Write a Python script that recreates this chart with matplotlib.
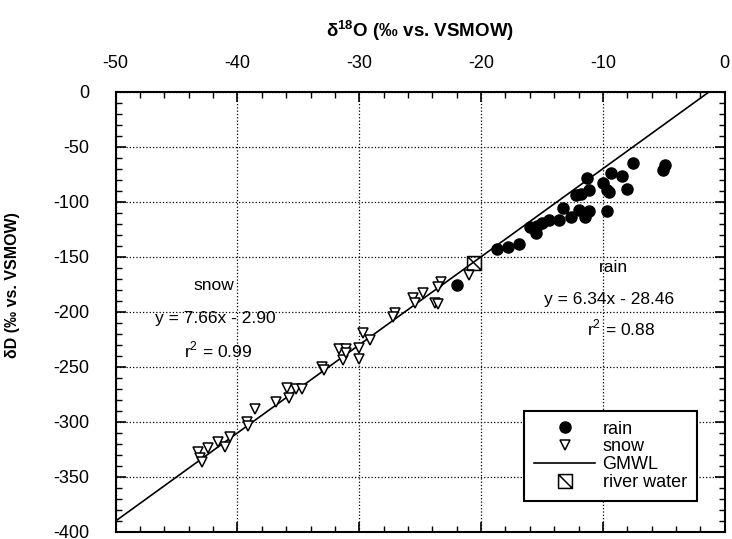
import matplotlib
matplotlib.use('Agg')
import matplotlib.pyplot as plt
from matplotlib.path import Path
import numpy as np

plt.rcParams['font.family'] = ['Liberation Sans', 'DejaVu Sans']
plt.rcParams['axes.unicode_minus'] = False
plt.rcParams['mathtext.fontset'] = 'custom'
plt.rcParams['mathtext.rm'] = 'Liberation Sans'
plt.rcParams['mathtext.bf'] = 'Liberation Sans:bold'

# rain samples (d18O, dD)
rain_o = [-7.5, -4.9, -5.1, -9.3, -8.4, -11.3, -10.0, -8.0, -11.1, -9.7, -9.5,
          -12.2, -11.8, -13.3, -12.0, -11.1, -9.7, -12.6, -11.5, -13.6, -14.4,
          -15.0, -15.4, -16.0, -15.5, -16.9, -17.8, -18.7, -22.0]
rain_d = [-64.5, -66.6, -71.2, -73.9, -76.6, -78.5, -83, -88.5, -89.4, -89.4, -90.9,
          -93.9, -93, -105.7, -107.5, -108, -108, -113.6, -113.9, -116.6, -116.6,
          -119.4, -122, -123, -128.5, -138.6, -141, -143, -175.7]

# snow samples
snow_o = [-21.0, -23.3, -23.5, -24.8, -25.6, -25.4, -23.8, -23.5, -27.1, -27.2,
          -29.7, -29.1, -31.7, -31.1, -30.0, -31.3, -30.0, -31.1, -33.1, -32.9,
          -35.9, -35.2, -34.7, -36.8, -35.8, -38.6, -39.2, -39.1,
          -40.6, -41.0, -41.6, -42.4, -43.2, -43.1, -42.9]
snow_d = [-166.6, -172.7, -177.3, -182.7, -187.8, -191.8, -192.4, -193, -201.5, -205,
          -219, -225.7, -234.2, -234.2, -233.3, -244, -243, -237.8, -250, -253,
          -269.6, -270.3, -270.3, -281.8, -278.7, -288.7, -300, -303.9,
          -313.6, -322.7, -318, -324, -327, -333, -336]

# river water
river_o = [-20.6]
river_d = [-155.5]

# global meteoric water line: dD = 8 d18O + 10
gmwl_o = np.array([-50.0, 0.0])
gmwl_d = 8 * gmwl_o + 10

# square with a diagonal marker
box = Path([(-1, -1), (1, -1), (1, 1), (-1, 1), (-1, -1), (-1, 1), (1, -1)],
           [Path.MOVETO, Path.LINETO, Path.LINETO, Path.LINETO, Path.CLOSEPOLY,
            Path.MOVETO, Path.LINETO])

fig = plt.figure(figsize=(7.32, 5.39), dpi=100)
ax = fig.add_axes([0.158, 0.013, 0.832, 0.817])

ax.plot(rain_o, rain_d, 'o', color='black', markersize=8, label='rain', zorder=4)
ax.plot(snow_o, snow_d, 'v', markerfacecolor='white', markeredgecolor='black',
        markersize=7, markeredgewidth=1.1, label='snow', zorder=4)
ax.plot(gmwl_o, gmwl_d, '-', color='black', linewidth=1.2, label='GMWL', zorder=3)
ax.plot(river_o, river_d, marker=box, linestyle='none', markerfacecolor='none',
        markeredgecolor='black', markersize=10, markeredgewidth=1.1,
        label='river water', zorder=5)

ax.set_xlim(-50, 0)
ax.set_ylim(-400, 0)
ax.set_xticks(np.arange(-50, 1, 10))
ax.set_xticks(np.arange(-50, 1, 2), minor=True)
ax.set_yticks(np.arange(-400, 1, 50))
ax.set_yticks(np.arange(-400, 1, 10), minor=True)
ax.xaxis.tick_top()
ax.tick_params(which='both', direction='in', top=True, bottom=True, left=True, right=True)
ax.tick_params(axis='x', which='major', length=7, width=1.2, pad=14, labelsize=13)
ax.tick_params(axis='y', which='major', length=7, width=1.2, pad=19, labelsize=13)
ax.tick_params(which='minor', length=4, width=1)
ax.grid(True, which='major', linestyle=':', color='black', linewidth=0.9)
for s in ax.spines.values():
    s.set_linewidth(1.5)

ax.xaxis.set_label_position('top')
ax.set_xlabel(r'δ$^{\mathbf{18}}$O (‰ vs. VSMOW)', fontsize=13.5, fontweight='bold', labelpad=13)
ax.set_ylabel('δD (‰ vs. VSMOW)', fontsize=11.5, fontweight='bold')
ax.yaxis.set_label_coords(-0.157, 0.56)

ax.text(-41.9, -175.7, 'snow', fontsize=12.5, ha='center', va='center')
ax.text(-41.8, -206, 'y = 7.66x - 2.90', fontsize=12.5, ha='center', va='center')
ax.text(-41.6, -235, 'r$^2$ = 0.99', fontsize=12.5, ha='center', va='center')
ax.text(-9.1, -160, 'rain', fontsize=12.5, ha='center', va='center')
ax.text(-9.5, -188.5, 'y = 6.34x - 28.46', fontsize=12.5, ha='center', va='center')
ax.text(-8.5, -215, 'r$^2$ = 0.88', fontsize=12.5, ha='center', va='center')

leg = ax.legend(loc='lower right', bbox_to_anchor=(0.954, 0.07), borderaxespad=0,
                fontsize=13, frameon=True, fancybox=False, edgecolor='black',
                framealpha=1, handlelength=3.4, labelspacing=0.05, borderpad=0.55,
                handletextpad=0.4)
leg.get_frame().set_linewidth(1.5)

fig.savefig('out.png', dpi=100)
